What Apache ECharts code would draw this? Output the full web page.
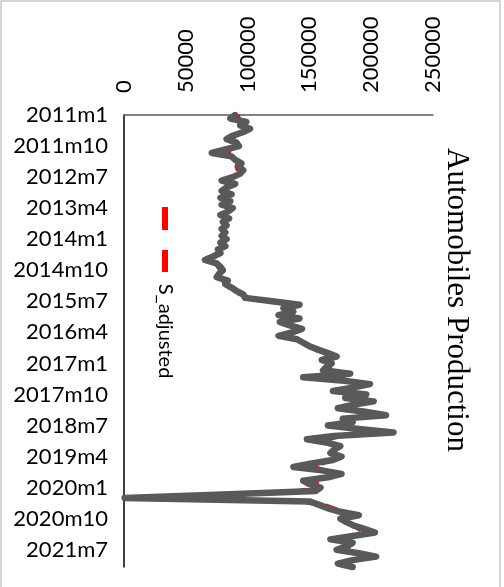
<!DOCTYPE html>
<html>
<head>
<meta charset="utf-8">
<script src="https://cdn.jsdelivr.net/npm/echarts@6/dist/echarts.min.js"></script>
<style>html,body{margin:0;padding:0;background:#fff;}#c{width:504px;height:587px;}</style>
</head>
<body>
<div id="c"></div>
<script>
// Months 2011m1 .. 2021m12
var years = [2011,2012,2013,2014,2015,2016,2017,2018,2019,2020,2021];
var months = [1,2,3,4,5,6,7,8,9,10,11,12];
var categories = [];
years.forEach(function(y){ months.forEach(function(m){ categories.push(y + 'm' + m); }); });

var valueTicks = [0, 50000, 100000, 150000, 200000, 250000];

// Raw production (gray)
var production = [
 90000, 86000, 99000, 94000,102000, 96000, 88000, 83000, 91000, 93000, 82000, 71000,
 87000, 90000, 95000, 93000, 96500, 94000, 88000, 79000, 90000, 83000, 79000, 87000,
 78000, 86000, 79000, 88000, 84000, 78000, 85000, 80000, 83000, 79000, 82000, 79000,
 83000, 78000, 82000, 76000, 78000, 72000, 65500, 75000, 78000, 80000, 77000, 75000,
 84000, 82000, 87000, 91000, 96500, 98000,120000,142000,129000,137000,125000,142000,
126000,134000,144000,136000,125000,140000,145000,150000,157000,165000,172000,160000,
168000,164000,161000,183000,145000,178000,199000,185000,169000,196000,179000,202000,
185000,173000,195000,212000,177000,185000,165000,190000,218000,170000,148000,165000,
175000,170000,167000,176000,169000,152000,137000,160000,176000,165000,145000,150000,
159000,155000, 80000,   500,150000,158000,165000,175000,190000,175000,180000,186000,
195000,203000,185000,167000,185000,180000,172000,190000,204000,185000,173000,185000
];

// Seasonally adjusted (red dashed)
var sAdjusted = [
 92000, 93000, 95000, 93000, 96000, 94000, 90000, 88000, 90000, 89000, 86000, 84000,
 88000, 90000, 92000, 91000, 92000, 90000, 88000, 86000, 87000, 85000, 84000, 86000,
 84000, 85000, 83000, 85000, 84000, 82000, 84000, 82000, 82000, 81000, 81000, 80000,
 81000, 79000, 80000, 78000, 77000, 74000, 71000, 74000, 76000, 78000, 77000, 78000,
 80000, 82000, 85000, 89000, 94000,102000,118000,134000,131000,133000,130000,136000,
131000,134000,140000,137000,133000,140000,144000,150000,155000,162000,166000,163000,
166000,166000,168000,176000,165000,178000,188000,186000,180000,190000,186000,194000,
188000,184000,192000,200000,186000,184000,176000,186000,200000,176000,165000,168000,
172000,169000,168000,172000,168000,160000,154000,162000,170000,164000,156000,156000,
158000,140000, 90000,  2000,140000,162000,170000,176000,184000,180000,182000,186000,
190000,194000,186000,178000,184000,182000,180000,188000,194000,186000,180000,184000
];

var chart = echarts.init(document.getElementById('c'), null, {renderer:'canvas'});
var labelFont = 'Lato, "Liberation Sans", sans-serif';
chart.setOption({
  animation: false,
  backgroundColor: '#ffffff',
  grid: {left: 124, top: 115, width: 309, height: 452, containLabel: false},
  xAxis: {
    type: 'value', position: 'top', min: 0, max: 250000, interval: 50000,
    axisLine: {show: true, lineStyle: {color: '#595959', width: 1.5}},
    axisTick: {show: false},
    splitLine: {show: false},
    axisLabel: {
      rotate: -90, margin: 22, color: '#000', fontSize: 22, fontFamily: labelFont,
      formatter: function(v){ return valueTicks.indexOf(v) >= 0 ? String(v) : ''; }
    }
  },
  yAxis: {
    type: 'category', data: categories, inverse: true, boundaryGap: false,
    axisLine: {show: true, lineStyle: {color: '#000', width: 1.5}},
    axisTick: {show: false},
    axisLabel: {interval: 8, margin: 16, color: '#000', fontSize: 22, fontFamily: labelFont}
  },
  series: [
    {
      name: 'S_adjusted', type: 'line', data: sAdjusted, showSymbol: false, symbol: 'none',
      lineStyle: {color: '#FF0000', width: 4, type: [12, 8]}, z: 2
    },
    {
      name: 'Production', type: 'line', data: production, showSymbol: false, symbol: 'none',
      lineStyle: {color: '#595959', width: 6.5, join: 'round', cap: 'round'}, z: 3
    }
  ],
  graphic: [
    {type: 'rect', shape: {x: 1, y: 1, width: 499, height: 600}, style: {fill: 'none', stroke: '#C8C8C8', lineWidth: 1.5}, silent: true},
    {type: 'text', x: 456, y: 300, rotation: -Math.PI/2,
     style: {text: 'Automobiles Production', fill: '#000', font: '31px "Liberation Serif", "Times New Roman", serif', align: 'center', verticalAlign: 'middle'}},
    {type: 'line', shape: {x1: 165, y1: 207, x2: 165, y2: 272},
     style: {stroke: '#FF0000', lineWidth: 6, lineDash: [23, 20]}},
    {type: 'text', x: 165, y: 331, rotation: -Math.PI/2,
     style: {text: 'S_adjusted', fill: '#000', font: '20px Lato, "Liberation Sans", sans-serif', align: 'center', verticalAlign: 'middle'}}
  ]
});
</script>
</body>
</html>
